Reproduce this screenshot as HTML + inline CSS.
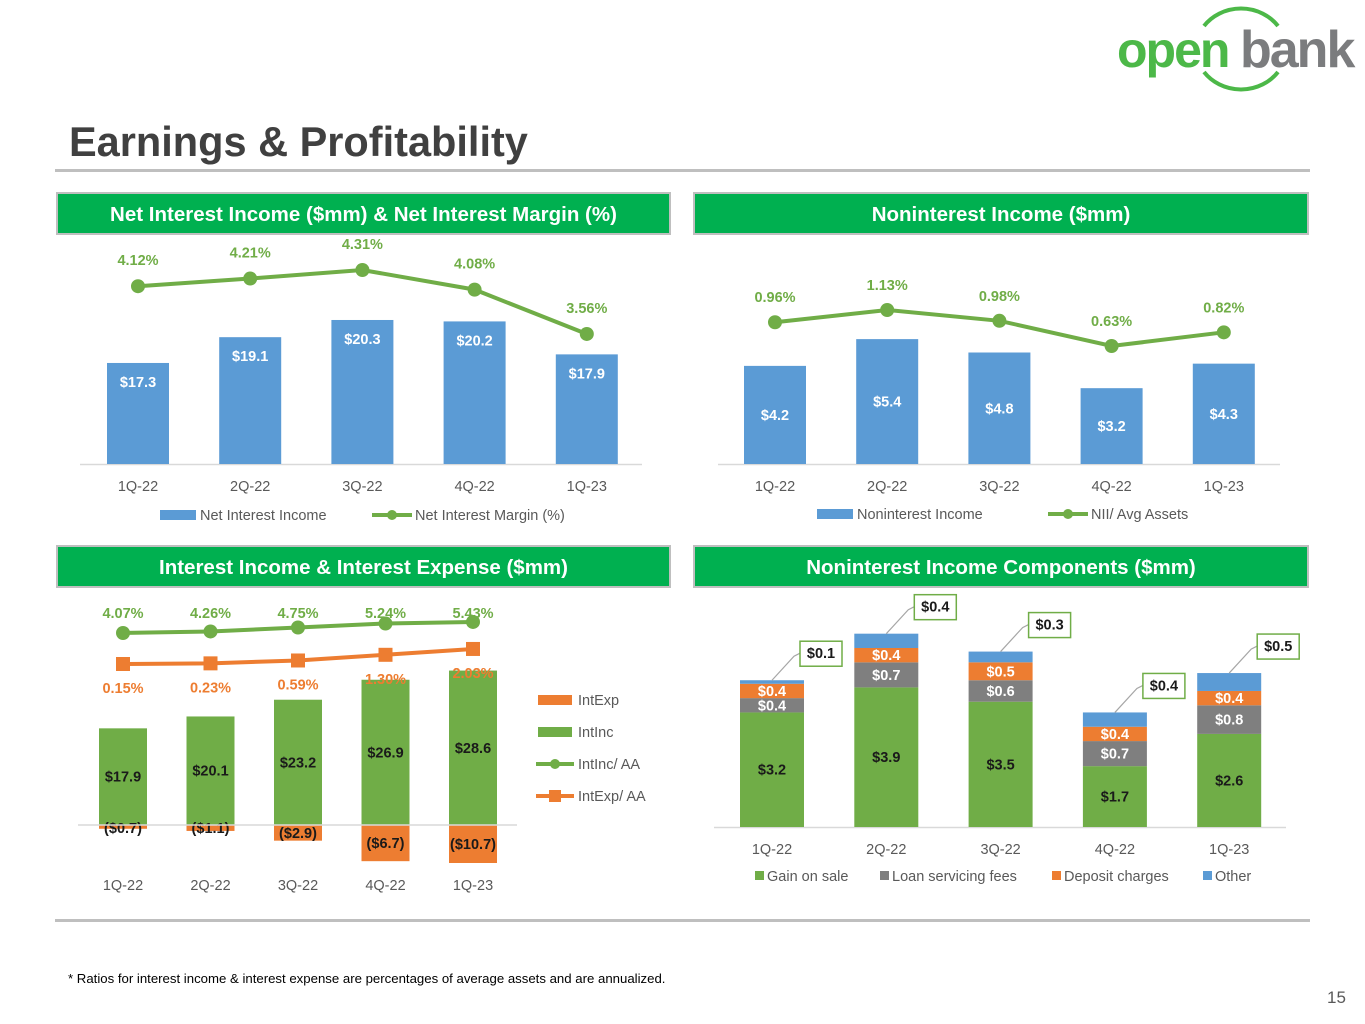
<!DOCTYPE html>
<html><head><meta charset="utf-8"><style>
html,body{margin:0;padding:0;background:#fff;width:1365px;height:1024px;overflow:hidden}
svg{display:block;font-family:"Liberation Sans",sans-serif}
</style></head><body>
<svg id="pg" width="1365" height="1024" viewBox="0 0 1365 1024" xmlns="http://www.w3.org/2000/svg">
<g>
<path d="M1204 26 A46 43 0 0 1 1278 26" fill="none" stroke="#4cb848" stroke-width="4"/>
<path d="M1204 72 A46 43 0 0 0 1278 72" fill="none" stroke="#4cb848" stroke-width="4"/>
<text x="1117" y="67" font-size="50" font-weight="bold" fill="#4cb848" letter-spacing="-2">open</text>
<text x="1240" y="67" font-size="52" font-weight="bold" fill="#7b7c7e" letter-spacing="-2">bank</text>
</g>
<text x="69" y="156" font-size="41.5" font-weight="bold" fill="#404040">Earnings &amp; Profitability</text>
<rect x="55" y="169" width="1255" height="3" fill="#bfbfbf"/>
<rect x="55" y="919" width="1255" height="3" fill="#bfbfbf"/>
<text x="68" y="983" font-size="13.2" fill="#000">* Ratios for interest income &amp; interest expense are percentages of average assets and are annualized.</text>
<text x="1327" y="1003" font-size="17" fill="#595959">15</text>
<g id="c1"></g>
<g id="c2"></g>
<g id="c3"></g>
<g id="c4"></g>
</svg>
<script>
const quarters = ["1Q-22","2Q-22","3Q-22","4Q-22","1Q-23"];
const nii = [17.3,19.1,20.3,20.2,17.9];
const nim = [4.12,4.21,4.31,4.08,3.56];
const nonint = [4.2,5.4,4.8,3.2,4.3];
const niiAvg = [0.96,1.13,0.98,0.63,0.82];
const intInc = [17.9,20.1,23.2,26.9,28.6];
const intExp = [-0.7,-1.1,-2.9,-6.7,-10.7];
const intIncAA = [4.07,4.26,4.75,5.24,5.43];
const intExpAA = [0.15,0.23,0.59,1.30,2.03];
const gainOnSale = [3.2,3.9,3.5,1.7,2.6];
const loanServicing = [0.4,0.7,0.6,0.7,0.8];
const depositCharges = [0.4,0.4,0.5,0.4,0.4];
const otherIncome = [0.1,0.4,0.3,0.4,0.5];

const NS="http://www.w3.org/2000/svg";
const BLUE="#5b9bd5",GREEN="#70ad47",ORANGE="#ed7d31",GRAY="#7f7f7f",HG="#00b050";
function mk(p,tag,a,txt){const e=document.createElementNS(NS,tag);for(const k in a)e.setAttribute(k,a[k]);if(txt!==undefined)e.textContent=txt;p.appendChild(e);return e;}
function header(p,x,y,w,t){
  const r=mk(p,"rect",{x:x,y:y,width:w,height:41,fill:HG,stroke:"#bfbfbf","stroke-width":2});
  
  
  const tx=mk(p,"text",{x:x+w/2,y:y+28,"text-anchor":"middle","font-size":20.5,"font-weight":"bold",fill:"#fff"},t);
  
  
}
function txt(p,x,y,s,fill,size,bold,anchor){return mk(p,"text",{x:x,y:y,"font-size":size||14,fill:fill||"#595959","font-weight":bold?"bold":"normal","text-anchor":anchor||"middle"},s);}
function dline(p,xs,ys,col,marker){
  let d="";xs.forEach((x,i)=>d+=(i?"L":"M")+x+" "+ys[i]);
  const l=mk(p,"path",{d:d,fill:"none",stroke:col,"stroke-width":4});
  
  
  xs.forEach((x,i)=>{
    let m;
    if(marker==="sq") m=mk(p,"rect",{x:x-7,y:ys[i]-7,width:14,height:14,fill:col});
    else m=mk(p,"circle",{cx:x,cy:ys[i],r:7,fill:col});
    
    
  });
}

// Chart 1
(function(){
  const g=document.getElementById("c1");
  header(g,57,193,613,"Net Interest Income ($mm) & Net Interest Margin (%)");
  const bx=i=>138+i*112.2, by=v=>464-14.33*(v-10.25), ly=v=>270+(4.31-v)*85.3;
  mk(g,"line",{x1:80,y1:464.5,x2:642,y2:464.5,stroke:"#d9d9d9","stroke-width":1.5});
  nii.forEach((v,i)=>{
    const r=mk(g,"rect",{x:bx(i)-31,y:by(v),width:62,height:464-by(v),fill:BLUE});
    
    
    txt(g,bx(i),by(v)+24,"$"+v.toFixed(1),"#fff",14.5,true);
    txt(g,bx(i),491,quarters[i],"#595959",14.5);
  });
  dline(g,nim.map((v,i)=>bx(i)),nim.map(ly),GREEN);
  nim.map((v,i)=>txt(g,bx(i),ly(v)-21,v.toFixed(2)+"%",GREEN,14.5,true));
  mk(g,"rect",{x:160,y:510,width:36,height:10,fill:BLUE});
  txt(g,200,520,"Net Interest Income","#595959",14.5,false,"start");
  mk(g,"line",{x1:372,y1:515,x2:412,y2:515,stroke:GREEN,"stroke-width":4});
  mk(g,"circle",{cx:392,cy:515,r:5,fill:GREEN});
  txt(g,415,520,"Net Interest Margin (%)","#595959",14.5,false,"start");
})();

// Chart 2
(function(){
  const g=document.getElementById("c2");
  header(g,694,193,614,"Noninterest Income ($mm)");
  const bx=i=>775+i*112.2, by=v=>464-22.3*(v+0.2), ly=v=>310+(1.13-v)*72;
  mk(g,"line",{x1:718,y1:464.5,x2:1280,y2:464.5,stroke:"#d9d9d9","stroke-width":1.5});
  nonint.forEach((v,i)=>{
    const r=mk(g,"rect",{x:bx(i)-31,y:by(v),width:62,height:464-by(v),fill:BLUE});
    
    
    txt(g,bx(i),by(v)+(464-by(v))/2+5,"$"+v.toFixed(1),"#fff",14.5,true);
    txt(g,bx(i),491,quarters[i],"#595959",14.5);
  });
  dline(g,niiAvg.map((v,i)=>bx(i)),niiAvg.map(ly),GREEN);
  niiAvg.map((v,i)=>txt(g,bx(i),ly(v)-20,v.toFixed(2)+"%",GREEN,14.5,true));
  mk(g,"rect",{x:817,y:509,width:36,height:10,fill:BLUE});
  txt(g,857,519,"Noninterest Income","#595959",14.5,false,"start");
  mk(g,"line",{x1:1048,y1:514,x2:1088,y2:514,stroke:GREEN,"stroke-width":4});
  mk(g,"circle",{cx:1068,cy:514,r:5,fill:GREEN});
  txt(g,1091,519,"NII/ Avg Assets","#595959",14.5,false,"start");
})();

// Chart 3
(function(){
  const g=document.getElementById("c3");
  header(g,57,546,613,"Interest Income & Interest Expense ($mm)");
  const bx=i=>123+i*87.5, base=825, sc=5.4, ymin=863;
  const by=v=>Math.min(ymin,base-sc*v);
  const gy=v=>633-(v-4.07)*8.1, oy=v=>664-(v-0.15)*8.0;
  intInc.forEach((v,i)=>{
    const r=mk(g,"rect",{x:bx(i)-24,y:by(v),width:48,height:base-by(v),fill:GREEN});
    
    
    txt(g,bx(i),by(v)+(base-by(v))/2+5,"$"+v.toFixed(1),"#1a1a1a",14.5,true);
    txt(g,bx(i),890,quarters[i],"#595959",14.5);
  });
  intExp.forEach((v,i)=>{
    const r=mk(g,"rect",{x:bx(i)-24,y:base,width:48,height:by(v)-base,fill:ORANGE});
    
    
    txt(g,bx(i),Math.max(base+8,(base+by(v))/2+5),"($"+Math.abs(v).toFixed(1)+")","#1a1a1a",14.5,true);
  });
  mk(g,"line",{x1:78,y1:825,x2:517,y2:825,stroke:"#d9d9d9","stroke-width":1.5});
  dline(g,intIncAA.map((v,i)=>bx(i)),intIncAA.map(gy),GREEN);
  intIncAA.map((v,i)=>txt(g,bx(i),618,v.toFixed(2)+"%",GREEN,14.5,true));
  dline(g,intExpAA.map((v,i)=>bx(i)),intExpAA.map(oy),ORANGE,"sq");
  intExpAA.map((v,i)=>txt(g,bx(i),oy(v)+29,v.toFixed(2)+"%",ORANGE,14.5,true));
  const leg=[["IntExp","bar",ORANGE],["IntInc","bar",GREEN],["IntInc/ AA","ln",GREEN],["IntExp/ AA","sq",ORANGE]];
  leg.forEach((L,k)=>{
    const y=700+k*32;
    if(L[1]==="bar") mk(g,"rect",{x:538,y:y-5,width:34,height:10,fill:L[2]});
    else{mk(g,"line",{x1:536,y1:y,x2:574,y2:y,stroke:L[2],"stroke-width":4});
      if(L[1]==="sq") mk(g,"rect",{x:549,y:y-6,width:12,height:12,fill:L[2]}); else mk(g,"circle",{cx:555,cy:y,r:5,fill:L[2]});}
    txt(g,578,y+5,L[0],"#595959",14.5,false,"start");
  });
})();

// Chart 4
(function(){
  const g=document.getElementById("c4");
  header(g,694,546,614,"Noninterest Income Components ($mm)");
  const bx=i=>772+i*114.3, base=827, sc=35.8;
  mk(g,"line",{x1:714,y1:827.5,x2:1286,y2:827.5,stroke:"#d9d9d9","stroke-width":1.5});
  const series=[[gainOnSale,GREEN,"#1a1a1a","gain-on-sale"],[loanServicing,"#7f7f7f","#fff","loan-servicing"],[depositCharges,ORANGE,"#fff","deposit-charges"],[otherIncome,BLUE,null,"other"]];
  quarters.forEach((q,i)=>{
    let cum=0;
    series.forEach(s=>{
      const v=s[0][i], y0=base-sc*cum, y1=base-sc*(cum+v);
      const r=mk(g,"rect",{x:bx(i)-32,y:y1,width:64,height:y0-y1,fill:s[1]});
      
      
      if(s[2]) txt(g,bx(i),(y0+y1)/2+5,"$"+v.toFixed(1),s[2],14.5,true);
      cum+=v;
    });
    const top=base-sc*cum, lx=bx(i)+28, ly=top-27;
    mk(g,"polyline",{points:(bx(i))+","+top+" "+(lx-6)+","+(ly+3)+" "+lx+","+ly,fill:"none",stroke:"#a6a6a6","stroke-width":1.2});
    const b=mk(g,"rect",{x:lx,y:ly-12,width:42,height:25,fill:"#fff",stroke:GREEN,"stroke-width":1.5});
    
    
    txt(g,lx+21,ly+5,"$"+otherIncome[i].toFixed(1),"#1a1a1a",14.5,true);
    txt(g,bx(i),854,q,"#595959",14.5);
  });
  const leg=[["Gain on sale",GREEN,755],["Loan servicing fees","#7f7f7f",880],["Deposit charges",ORANGE,1052],["Other",BLUE,1203]];
  leg.forEach(L=>{mk(g,"rect",{x:L[2],y:871,width:9,height:9,fill:L[1]});txt(g,L[2]+12,881,L[0],"#595959",14.5,false,"start");});
})();
</script>
</body></html>
